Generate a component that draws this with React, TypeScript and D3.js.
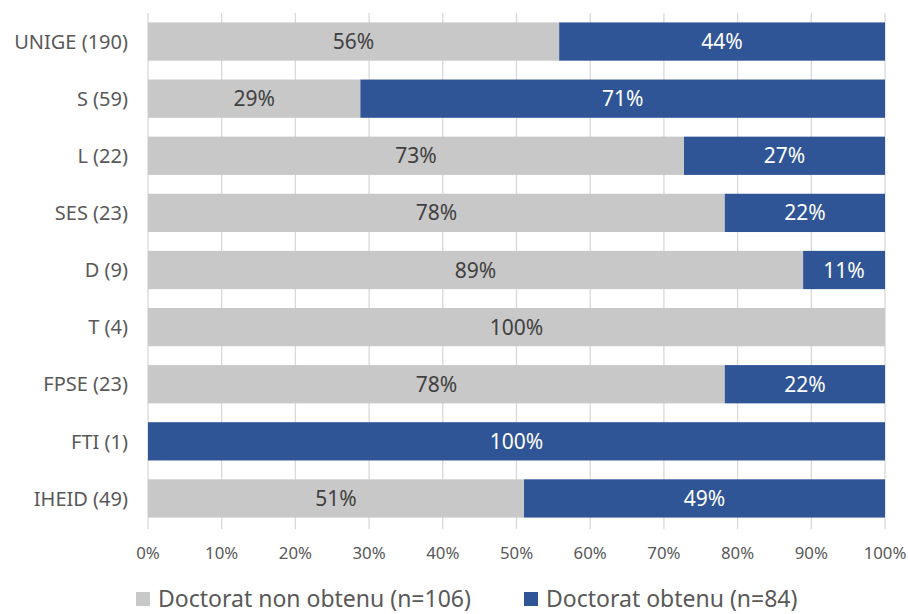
import React from "react";
import * as d3 from "d3";

const categories = ["UNIGE (190)", "S (59)", "L (22)", "SES (23)", "D (9)", "T (4)", "FPSE (23)", "FTI (1)", "IHEID (49)"];
const nonObtenu = [106, 17, 16, 18, 8, 4, 18, 0, 25];
const obtenu = [84, 42, 6, 5, 1, 0, 5, 1, 24];
const seriesNames = ["Doctorat non obtenu (n=106)", "Doctorat obtenu (n=84)"];
const xTicks = [0, 0.1, 0.2, 0.3, 0.4, 0.5, 0.6, 0.7, 0.8, 0.9, 1];

const W = 908;
const H = 614;
const margin = { left: 148, right: 23, top: 13, bottom: 87 };
const colors = ["#c8c8c8", "#2f5597"];
const textColors = ["#404040", "#ffffff"];
const font = "'Noto Sans', 'Open Sans', sans-serif";

export default function App() {
  const x = d3.scaleLinear().domain([0, 1]).range([margin.left, W - margin.right]);
  const y = d3
    .scaleBand<string>()
    .domain(categories)
    .range([margin.top, H - margin.bottom])
    .paddingInner(0.33)
    .paddingOuter(0.165);
  const rows = categories.map((c, i) => {
    const total = nonObtenu[i] + obtenu[i];
    const a = nonObtenu[i] / total;
    const b = obtenu[i] / total;
    return { c, segs: [ { s: 0, e: a, v: a, k: 0 }, { s: a, e: 1, v: b, k: 1 } ] };
  });
  const plotBottom = H - margin.bottom;
  return (
    <svg width={W} height={H} style={{ position: "absolute", left: 0, top: 0, background: "#fff" }}>
      {xTicks.map((t) => (
        <line key={t} x1={x(t)} x2={x(t)} y1={margin.top} y2={plotBottom + 2} stroke="#d9d9d9" strokeWidth={1.3} />
      ))}
      {rows.map((r) =>
        r.segs.map((s) =>
          s.v > 0 ? (
            <g key={r.c + s.k}>
              <rect x={x(s.s)} y={y(r.c)!} width={x(s.e) - x(s.s)} height={y.bandwidth()} fill={colors[s.k]} />
              <text
                x={(x(s.s) + x(s.e)) / 2}
                y={y(r.c)! + y.bandwidth() / 2}
                dy="0.36em"
                textAnchor="middle"
                fontFamily={font}
                fontSize={21}
                fill={textColors[s.k]}
              >
                {Math.round(s.v * 100)}%
              </text>
            </g>
          ) : null
        )
      )}
      {categories.map((c) => (
        <text key={c} x={128} y={y(c)! + y.bandwidth() / 2} dy="0.36em" textAnchor="end" fontFamily={font} fontSize={20} fill="#595959">
          {c}
        </text>
      ))}
      {xTicks.map((t) => (
        <text key={"l" + t} x={x(t)} y={559} textAnchor="middle" fontFamily={font} fontSize={16.8} fill="#595959">
          {Math.round(t * 100)}%
        </text>
      ))}
      <g>
        <rect x={136} y={592} width={14} height={14} fill={colors[0]} />
        <text x={158} y={607} fontFamily={font} fontSize={23} fill="#595959">{seriesNames[0]}</text>
        <rect x={524} y={592} width={14} height={14} fill={colors[1]} />
        <text x={546} y={607} fontFamily={font} fontSize={23} fill="#595959">{seriesNames[1]}</text>
      </g>
    </svg>
  );
}
